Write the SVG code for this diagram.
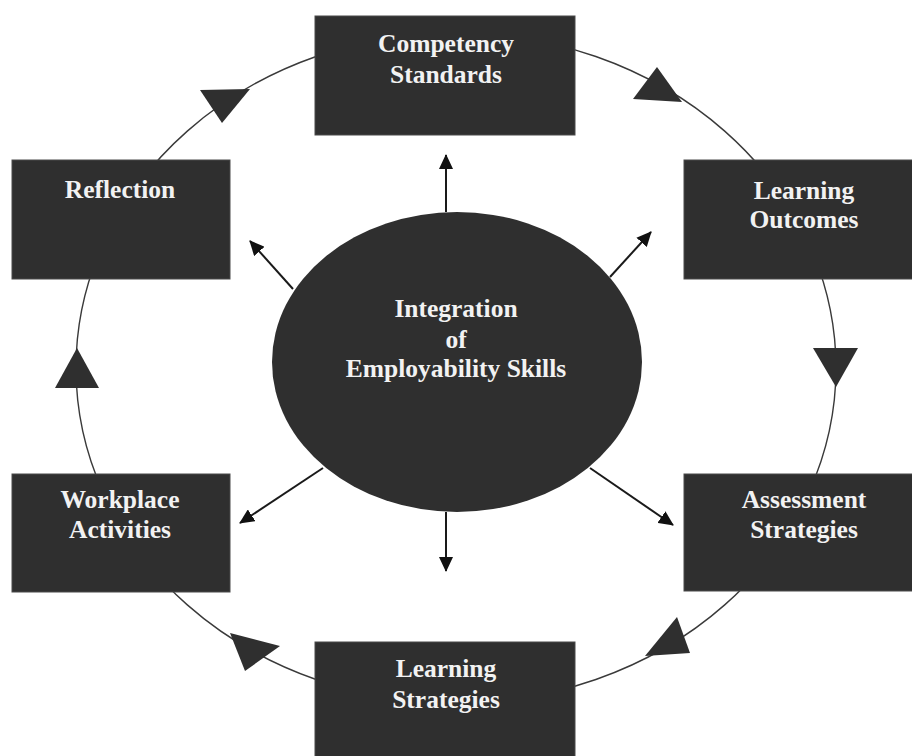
<svg xmlns="http://www.w3.org/2000/svg" width="912" height="756" viewBox="0 0 912 756">
  <style>
    .box { fill: #2f2f2f; stroke: #4a4a4a; stroke-width: 1; }
    .lbl { fill: #f2f2f2; font-family: "Liberation Serif", "Times New Roman", serif; font-weight: bold; font-size: 25.5px; text-anchor: middle; }
    .ring { fill: none; stroke: #3a3a3a; stroke-width: 1.4; }
    .flow { fill: #2f2f2f; }
    .spoke { stroke: #1a1a1a; stroke-width: 2; fill: none; marker-end: url(#head); }
  </style>
  <defs>
    <marker id="head" markerUnits="userSpaceOnUse" markerWidth="16" markerHeight="14" refX="14" refY="7" orient="auto">
      <path d="M0,0 L15,7 L0,14 Z" fill="#111"/>
    </marker>
  </defs>

  <rect width="912" height="756" fill="#ffffff"/>

  <!-- cycle ring and its direction triangles -->
  <g id="connectors">
    <ellipse class="ring" cx="456" cy="368" rx="380" ry="335"/>
    <polygon class="flow" points="200,90 250,89 222,123"/>
    <polygon class="flow" points="633,99 657,67 682,102"/>
    <polygon class="flow" points="813,348 858,348 836,387"/>
    <polygon class="flow" points="677,617 690,653 645,656"/>
    <polygon class="flow" points="230,633 280,646 245,671"/>
    <polygon class="flow" points="55,388 77,348 99,388"/>

    <!-- spokes radiating from the centre -->
    <line class="spoke" x1="446" y1="212" x2="446" y2="155"/>
    <line class="spoke" x1="610" y1="277" x2="651" y2="232"/>
    <line class="spoke" x1="590" y1="468" x2="673" y2="525"/>
    <line class="spoke" x1="446" y1="512" x2="446" y2="571"/>
    <line class="spoke" x1="323" y1="468" x2="240" y2="523"/>
    <line class="spoke" x1="293" y1="289" x2="250" y2="241"/>
  </g>

  <g id="integration">
    <ellipse cx="457" cy="362" rx="185" ry="150" fill="#2f2f2f"/>
    <text class="lbl" x="456" y="317">Integration</text>
    <text class="lbl" x="456" y="348">of</text>
    <text class="lbl" x="456" y="377">Employability Skills</text>
  </g>

  <g id="competency-standards">
    <rect class="box" x="315" y="16" width="260" height="119"/>
    <text class="lbl" x="446" y="52">Competency</text>
    <text class="lbl" x="446" y="83">Standards</text>
  </g>

  <g id="learning-outcomes">
    <rect class="box" x="684" y="160" width="240" height="119"/>
    <text class="lbl" x="804" y="199">Learning</text>
    <text class="lbl" x="804" y="228">Outcomes</text>
  </g>

  <g id="assessment-strategies">
    <rect class="box" x="684" y="474" width="240" height="117"/>
    <text class="lbl" x="804" y="508">Assessment</text>
    <text class="lbl" x="804" y="538">Strategies</text>
  </g>

  <g id="learning-strategies">
    <rect class="box" x="315" y="642" width="260" height="120"/>
    <text class="lbl" x="446" y="677">Learning</text>
    <text class="lbl" x="446" y="708">Strategies</text>
  </g>

  <g id="workplace-activities">
    <rect class="box" x="12" y="474" width="218" height="118"/>
    <text class="lbl" x="120" y="508">Workplace</text>
    <text class="lbl" x="120" y="538">Activities</text>
  </g>

  <g id="reflection">
    <rect class="box" x="12" y="160" width="218" height="119"/>
    <text class="lbl" x="120" y="198">Reflection</text>
  </g>
</svg>
